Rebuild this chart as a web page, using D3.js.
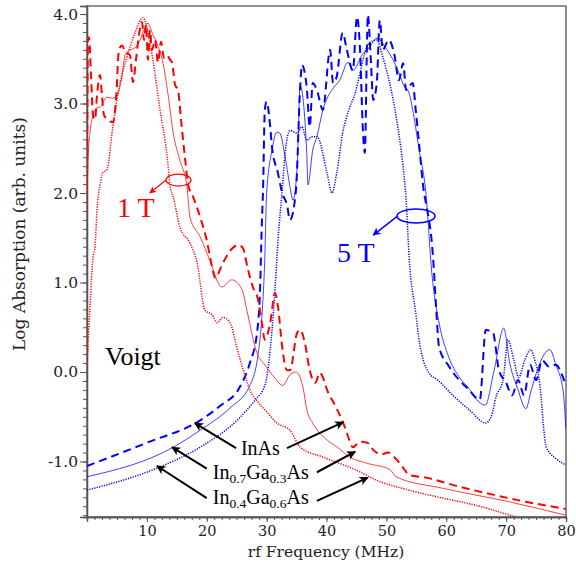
<!DOCTYPE html>
<html><head><meta charset="utf-8">
<script src="https://cdn.jsdelivr.net/npm/d3@7"></script>
<style>body{margin:0;background:#fff}svg{display:block}</style>
</head><body><svg id="c" width="576" height="564"></svg>
<script>
// ---------- data (frequency in MHz, log absorption) ----------
const xTicks = [10,20,30,40,50,60,70,80];
const yTicks = [-1.0,0.0,1.0,2.0,3.0,4.0];
const yTickLabels = ["-1.0","0.0","1.0","2.0","3.0","4.0"];

// 1 T, InAs (red dashed)
const red1F = [0,0.17,0.33,0.67,1.0,1.34,1.67,2.17,2.5,2.84,3.5,4.34,4.84,5.34,5.85,6.35,7.18,7.68,8.18,8.68,9.19,9.52,9.85,10.19,10.52,10.86,11.36,11.86,12.36,12.86,13.36,13.86,14.2,14.7,15.2,15.7,16.4,16.9,17.7,18.9,20.0,20.9,21.4,22.7,24.4,25.2,26.0,26.9,27.7,28.6,29.2,29.7,30.6,31.4,31.9,32.6,33.4,33.9,35.1,35.6,36.4,37.2,38.1,38.9,39.4,40.1,41.4,42.8,43.4,44.4,45.6,46.8,47.8,49.1,50.3,51.3,52.8,53.8,56.6,62.1,67.8,73.3,80];
const red1V = [2.09,3.71,3.74,3.32,2.87,2.82,3.09,3.32,3.09,2.87,2.82,2.79,3.04,3.6,3.65,3.58,3.54,3.24,3.49,3.77,3.91,3.71,3.88,3.49,3.82,3.6,3.71,3.46,3.69,3.51,3.54,3.49,3.46,3.21,3.15,2.82,2.37,2.09,1.96,1.73,1.47,1.17,1.05,1.22,1.39,1.42,1.39,1.14,0.95,0.80,0.55,0.36,0.55,0.88,0.73,0.28,0.02,0.02,0.44,0.47,0.32,0.02,-0.12,-0.01,-0.06,-0.2,-0.37,-0.57,-0.68,-0.84,-0.78,-0.79,-0.87,-0.92,-0.9,-0.95,-1.07,-1.15,-1.18,-1.28,-1.37,-1.45,-1.53];

// 1 T, In0.7Ga0.3As (red solid)
const red2F = [0,0.17,0.5,1.0,1.67,2.17,3.34,4.34,5.18,5.85,6.35,7.18,8.0,8.85,9.69,10.2,10.86,11.7,12.7,13.5,14.4,15.5,16.7,17.2,18.9,20.5,22.5,24.2,25.9,26.7,28.4,29.7,31.4,32.7,33.9,34.9,36.1,36.7,37.7,40.1,41.8,43.9,46.8,50.6,51.6,59.5,70.5,80];
const red2V = [1.75,2.37,2.67,2.87,2.95,2.96,3.07,3.06,3.12,3.3,3.54,3.6,3.62,3.71,3.85,3.9,3.79,3.67,3.45,3.12,2.67,2.37,2.07,1.73,1.51,1.25,0.95,1.03,0.92,0.69,0.21,0.08,-0.07,-0.15,-0.03,0.0,-0.18,-0.42,-0.57,-0.76,-0.84,-0.95,-1.02,-1.09,-1.17,-1.3,-1.45,-1.6];

// 1 T, In0.4Ga0.6As (red dotted)
const red3F = [0,0.5,1.0,1.34,1.67,2.17,2.67,3.34,4.18,5.51,6.68,8.02,9.35,10.0,11.0,12.2,13.4,13.9,14.4,15.5,17.2,18.4,19.7,20.9,21.7,22.7,23.9,25.0,26.1,27.2,28.6,30.1,31.7,33.9,35.6,39.4,45.1,48.4,53.8,59.5,65.0,71.7,80];
const red3V = [0.08,0.73,1.28,1.4,1.81,2.09,2.23,2.26,2.67,3.23,3.52,3.79,3.96,3.85,3.49,2.93,2.4,2.07,1.96,1.62,1.44,1.22,0.69,0.64,0.55,0.61,0.55,0.28,0.02,-0.2,-0.34,-0.45,-0.57,-0.65,-0.84,-0.95,-1.1,-1.21,-1.32,-1.41,-1.49,-1.62,-1.77];

// 5 T, InAs (blue dashed)
const blue1F = [0,10,18.9,22.2,25.5,27.2,28.4,28.9,29.2,29.4,29.7,30.0,30.6,30.9,31.9,32.6,33.4,33.9,34.9,35.6,35.9,36.7,37.2,37.7,38.4,39.4,40.6,41.1,41.7,42.7,43.4,44.4,45.1,45.6,46.1,46.4,46.8,46.9,47.4,47.8,48.4,48.9,49.4,50.4,51.3,52.1,52.8,53.3,54.4,54.9,55.4,56.3,56.6,57.8,58.3,58.8,60.5,63.8,65.6,66.6,67.8,68.8,70.0,71.0,72.0,73.0,74.0,75.0,76.0,77.2,78.3,79.5,80];
const blue1V = [-1.05,-0.79,-0.54,-0.38,-0.17,0.1,0.44,0.92,1.66,2.03,2.93,3.02,2.74,2.51,2.22,2.0,1.87,1.7,2.03,3.18,3.43,3.18,2.74,3.23,3.15,2.93,3.6,3.23,3.3,3.79,3.6,3.37,3.97,3.6,2.67,2.45,3.79,3.99,3.49,3.04,3.23,3.93,3.6,3.71,3.56,3.26,3.45,3.15,3.23,2.93,2.59,2.0,1.89,1.28,0.73,0.28,0.06,-0.2,-0.31,0.47,0.44,0.02,-0.12,-0.26,-0.09,-0.26,0.08,-0.09,0.13,0.06,0.08,-0.06,-0.15];

// 5 T, In0.7Ga0.3As (blue solid)
const blue2F = [0,14.4,18.9,23.9,27.2,28.6,29.2,29.7,30.0,30.9,31.7,32.2,33.1,33.9,34.4,35.1,35.6,36.7,36.9,37.7,38.4,39.4,41.1,42.2,43.6,44.4,46.1,47.2,48.4,50.1,51.1,52.1,53.1,53.6,54.4,55.4,56.6,57.6,58.8,60.4,62.1,64.0,65.1,66.5,68.0,69.6,70.6,72.0,73.3,74.2,75.2,76.3,77.3,78.3,79.5,80];
const blue2V = [-1.17,-0.84,-0.65,-0.4,-0.15,0.21,0.61,1.28,2.0,2.48,2.68,2.67,2.4,2.07,1.92,2.3,3.2,2.45,2.09,2.48,2.63,2.93,3.17,3.26,3.46,3.37,3.56,3.63,3.73,3.6,3.49,3.34,3.18,3.15,2.93,2.51,2.0,1.1,0.55,0.17,-0.05,-0.2,-0.31,-0.37,0.02,0.49,0.1,-0.2,-0.41,-0.2,0.02,0.19,0.25,0.08,-0.2,-0.65,-0.82];

// 5 T, In0.4Ga0.6As (blue dotted)
const blue3F = [0,12.2,18.9,25.5,28.1,29.7,30.9,31.4,31.9,32.6,33.1,33.9,35.1,35.9,36.7,37.6,38.4,40.1,40.9,41.7,42.7,43.9,44.8,45.6,46.1,47.2,48.4,49.4,50.9,51.9,52.8,53.3,53.8,54.9,55.4,57.1,58.6,61.1,63.8,66.6,67.5,68.3,69.5,70.3,71.3,72.1,73.1,74.1,74.8,75.5,76.7,78.2,80];
const blue3V = [-1.32,-1.06,-0.84,-0.51,-0.31,-0.15,0.47,0.92,1.47,2.03,2.45,2.7,2.67,2.74,2.59,2.63,2.63,2.22,2.0,2.22,2.67,2.96,3.12,3.34,3.49,3.68,3.71,3.52,3.12,2.74,2.29,1.92,1.28,0.66,0.39,-0.01,-0.09,-0.26,-0.42,-0.57,-0.5,-0.28,-0.09,0.36,0.13,-0.06,0.13,0.25,0.13,-0.07,-0.84,-0.96,-1.04];

// ---------- layout ----------
const svg = d3.select("#c");
const M = {l:87, r:566, t:6, b:517};
const x = d3.scaleLinear().domain([0,80]).range([M.l, M.r]);
const y = d3.scaleLinear().domain([-1.62,4.09]).range([M.b, M.t]);
const RED = "#ff0000", BLUE = "#0000ff", AX = "#555";

svg.append("defs").append("clipPath").attr("id","clip")
  .append("rect").attr("x",M.l).attr("y",M.t).attr("width",M.r-M.l).attr("height",M.b-M.t);

const defs = svg.select("defs");
function marker(id, color, w, h){
  defs.append("marker").attr("id",id).attr("viewBox","0 0 10 10").attr("refX",9).attr("refY",5)
    .attr("markerWidth",w).attr("markerHeight",h).attr("orient","auto").attr("markerUnits","userSpaceOnUse")
    .append("path").attr("d","M0,0 L10,5 L0,10 L2.5,5 Z").attr("fill",color);
}
marker("ab","#000",12,9);
marker("ar",RED,9,7);
marker("abl",BLUE,10,8);

// frame
svg.append("rect").attr("x",M.l).attr("y",M.t).attr("width",M.r-M.l).attr("height",M.b-M.t)
  .attr("fill","none").attr("stroke",AX).attr("stroke-width",1.3);

// axes
const xMinor = d3.range(0,80.01,1.25);
const yMinor = d3.range(-16,41).map(d=>d/10);
const gx = svg.append("g").attr("transform",`translate(0,${M.b})`);
gx.call(d3.axisBottom(x).tickValues(xMinor).tickSize(3).tickFormat(""));
gx.append("g").attr("class","xmaj").call(d3.axisBottom(x).tickValues(xTicks).tickSize(5).tickPadding(4).tickFormat(d3.format("d")));
const gy = svg.append("g").attr("transform",`translate(${M.l},0)`);
gy.call(d3.axisLeft(y).tickValues(yMinor).tickSize(4).tickFormat(""));
gy.append("g").attr("class","ymaj").call(d3.axisLeft(y).tickValues(yTicks).tickSize(7).tickPadding(2).tickFormat((d,i)=>yTickLabels[i]));
svg.selectAll(".domain").attr("stroke",AX).attr("stroke-width",1.3);
svg.selectAll(".tick line").attr("stroke",AX);
svg.selectAll(".ymaj .tick text").attr("font-family","DejaVu Serif").attr("font-size",15.5).attr("fill","#222");
svg.selectAll(".xmaj .tick text").attr("font-family","DejaVu Serif").attr("font-size",14.5).attr("fill","#222");

// axis titles
svg.append("text").attr("x",326).attr("y",557).attr("text-anchor","middle")
  .attr("font-family","DejaVu Serif").attr("font-size",15.5).attr("fill","#222").text("rf Frequency (MHz)");
svg.append("text").attr("transform","translate(25,234) rotate(-90)").attr("text-anchor","middle")
  .attr("font-family","DejaVu Serif").attr("font-size",17).attr("fill","#222").text("Log Absorption (arb. units)");

// curves
const line = d3.line().x(d=>x(d[0])).y(d=>y(d[1])).curve(d3.curveMonotoneX);
const plot = svg.append("g").attr("clip-path","url(#clip)");
const series = [
  {f:blue3F,v:blue3V,c:BLUE,w:1.5,dash:"1.2,1.3"},
  {f:blue2F,v:blue2V,c:BLUE,w:1,dash:null,op:0.75},
  {f:blue1F,v:blue1V,c:BLUE,w:2,dash:"8,5"},
  {f:red3F,v:red3V,c:RED,w:1.5,dash:"1.2,1.3"},
  {f:red2F,v:red2V,c:RED,w:1,dash:null,op:0.75},
  {f:red1F,v:red1V,c:RED,w:2,dash:"8,5"}
];
series.forEach(s=>{
  plot.append("path").datum(s.f.map((f,i)=>[f,s.v[i]])).attr("d",line)
    .attr("fill","none").attr("stroke",s.c).attr("stroke-width",s.w)
    .attr("stroke-opacity",s.op||1).attr("stroke-dasharray",s.dash);
});

// annotations (data coordinates)
function arrow(f1,v1,f2,v2,color,w,m){
  svg.append("line").attr("x1",x(f1)).attr("y1",y(v1)).attr("x2",x(f2)).attr("y2",y(v2))
    .attr("stroke",color).attr("stroke-width",w).attr("marker-end",`url(#${m})`);
}
// field labels
svg.append("ellipse").attr("cx",x(15.28)).attr("cy",y(2.145)).attr("rx",12.5).attr("ry",6)
  .attr("fill","none").attr("stroke",RED).attr("stroke-width",1.2);
arrow(13.2,2.145,10.5,2.0,RED,1.2,"ar");
svg.append("text").attr("x",x(5.0)).attr("y",y(1.73)).attr("font-family","Liberation Serif")
  .attr("font-size",28).attr("fill",RED).text("1 T");
svg.append("ellipse").attr("cx",x(54.95)).attr("cy",y(1.743)).attr("rx",19).attr("ry",7)
  .attr("fill","none").attr("stroke",BLUE).attr("stroke-width",1.5);
arrow(51.8,1.74,47.8,1.53,BLUE,1.5,"abl");
svg.append("text").attr("x",x(41.75)).attr("y",y(1.23)).attr("font-family","Liberation Serif")
  .attr("font-size",28).attr("fill",BLUE).text("5 T");
svg.append("text").attr("x",x(3.0)).attr("y",y(0.08)).attr("font-family","Liberation Serif")
  .attr("font-size",26).attr("fill","#000").text("Voigt");

// material labels
function label(f,v,parts){
  const t = svg.append("text").attr("x",x(f)).attr("y",y(v)).attr("font-family","Liberation Serif")
    .attr("font-size",20).attr("fill","#000");
  parts.forEach(p=>{
    const ts = t.append("tspan").text(p[0]);
    if(p[1]) ts.attr("font-size",13.5).attr("dy",4.5); else if(p[2]) ts.attr("dy",-4.5);
  });
}
label(25.7,-0.93,[["InAs"]]);
label(21.0,-1.19,[["In"],["0.7",1],["Ga",0,1],["0.3",1],["As",0,1]]);
label(21.0,-1.47,[["In"],["0.4",1],["Ga",0,1],["0.6",1],["As",0,1]]);
arrow(24.9,-0.85,18.0,-0.57,"#000",2,"ab");
arrow(33.4,-0.85,42.8,-0.56,"#000",2,"ab");
arrow(20.0,-1.08,14.2,-0.84,"#000",2,"ab");
arrow(38.4,-1.12,44.8,-0.89,"#000",2,"ab");
arrow(20.0,-1.41,11.7,-1.05,"#000",2,"ab");
arrow(38.4,-1.44,46.9,-1.18,"#000",2,"ab");
</script></body></html>
